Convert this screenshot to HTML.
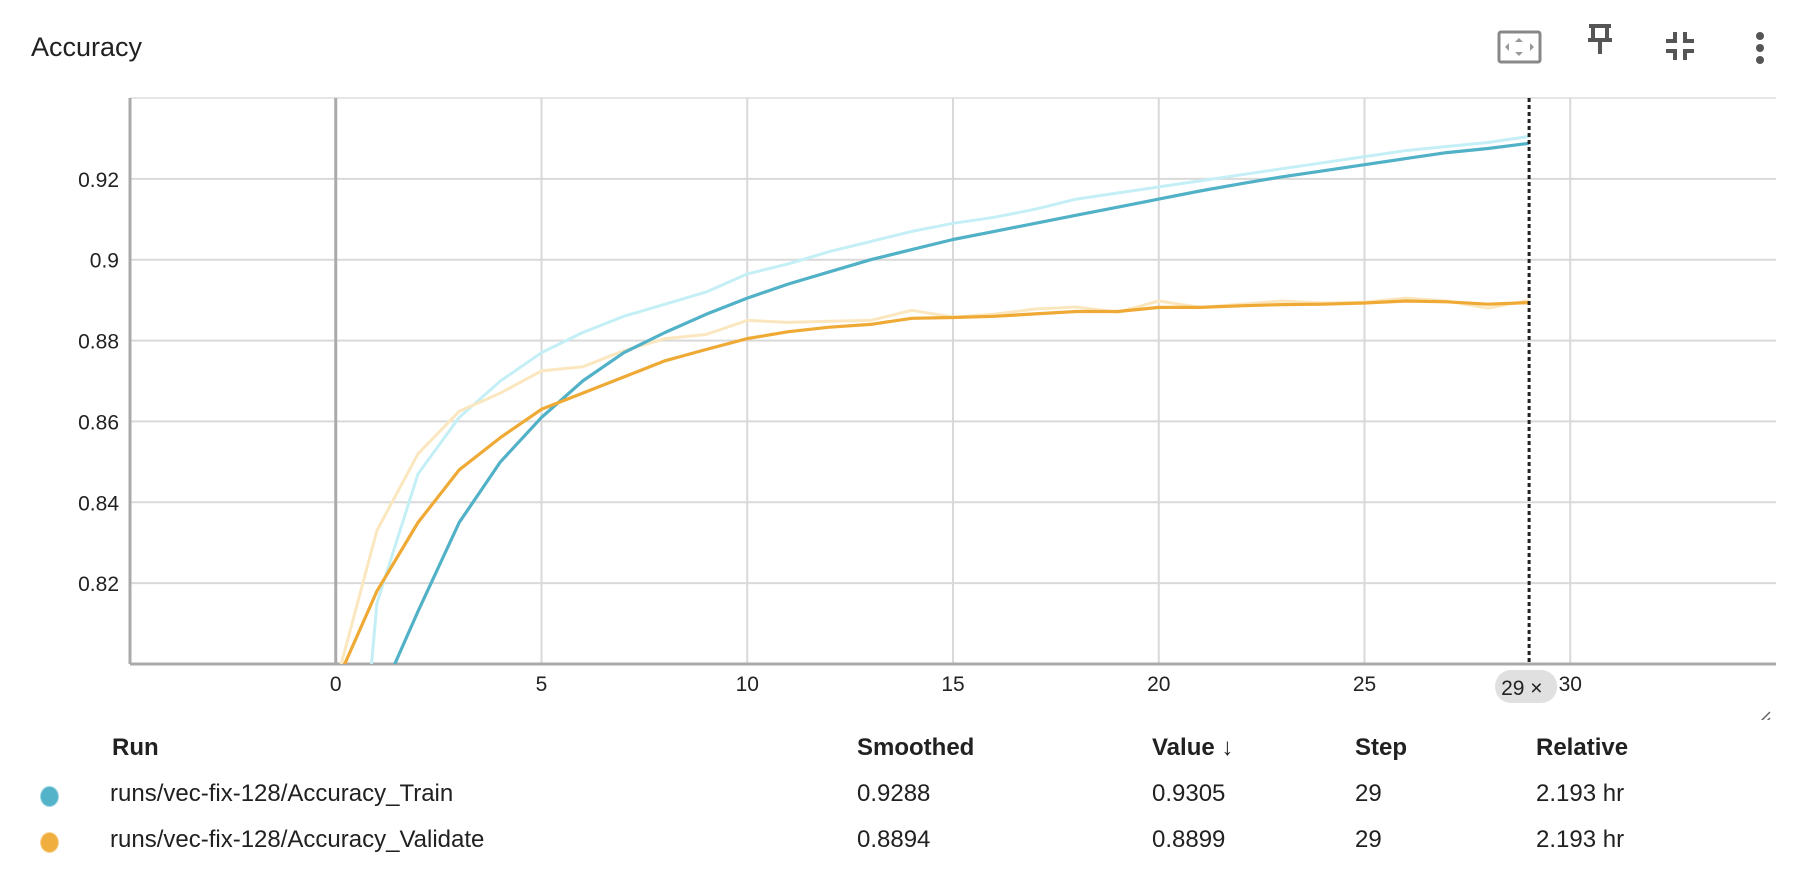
<!DOCTYPE html>
<html><head><meta charset="utf-8">
<style>
html,body{margin:0;padding:0;background:#fff;width:1804px;height:892px;overflow:hidden;font-family:"Liberation Sans",sans-serif;color:#212121;}
#wrap{position:relative;width:1804px;height:892px;overflow:hidden;}
.title{position:absolute;left:31px;top:32px;font-size:27px;line-height:30px;}
.icon{position:absolute;}
.tbl{position:absolute;font-size:24px;line-height:28px;white-space:nowrap;}
.hdr{font-weight:bold;}
</style></head><body><div id="wrap">
<div class="title">Accuracy</div>
<svg class="icon" style="left:1497px;top:29px" width="46" height="36"><rect x="2" y="3" width="41" height="30" rx="2" fill="none" stroke="#888" stroke-width="3"/><path d="M22 9l-4 4h8zM22 27l-4-4h8zM8 18l4-4v8zM37 18l-4-4v8z" fill="#999"/></svg>
<svg class="icon" style="left:1585px;top:22px" width="30" height="34"><path d="M4 4h22M8 4v12M22 4v12M3 18h24M15 18v14" stroke="#555" stroke-width="4" fill="none"/></svg>
<svg class="icon" style="left:1664px;top:30px" width="32" height="32"><path d="M2 11h9V2M30 11h-9V2M2 21h9v9M30 21h-9v9" stroke="#555" stroke-width="4" fill="none"/></svg>
<svg class="icon" style="left:1752px;top:28px" width="16" height="40"><circle cx="8" cy="8" r="4" fill="#555"/><circle cx="8" cy="20" r="4" fill="#555"/><circle cx="8" cy="32" r="4" fill="#555"/></svg>

<svg id="chart" style="position:absolute;left:0;top:0" width="1804" height="720"></svg>

<div class="tbl hdr" style="left:112px;top:734px">Run</div>
<div class="tbl hdr" style="left:857px;top:734px">Smoothed</div>
<div class="tbl hdr" style="left:1152px;top:734px">Value ↓</div>
<div class="tbl hdr" style="left:1355px;top:734px">Step</div>
<div class="tbl hdr" style="left:1536px;top:734px">Relative</div>

<div style="position:absolute;left:40px;top:786px;width:19px;height:21px;border-radius:50%;background:#53b3c9;border:1px solid #9fd6e3;box-sizing:border-box"></div>
<div class="tbl" style="left:110px;top:780px">runs/vec-fix-128/Accuracy_Train</div>
<div class="tbl" style="left:857px;top:780px">0.9288</div>
<div class="tbl" style="left:1152px;top:780px">0.9305</div>
<div class="tbl" style="left:1355px;top:780px">29</div>
<div class="tbl" style="left:1536px;top:780px">2.193 hr</div>

<div style="position:absolute;left:40px;top:832px;width:19px;height:21px;border-radius:50%;background:#f0ae3e;border:1px solid #f7d597;box-sizing:border-box"></div>
<div class="tbl" style="left:110px;top:826px">runs/vec-fix-128/Accuracy_Validate</div>
<div class="tbl" style="left:857px;top:826px">0.8894</div>
<div class="tbl" style="left:1152px;top:826px">0.8899</div>
<div class="tbl" style="left:1355px;top:826px">29</div>
<div class="tbl" style="left:1536px;top:826px">2.193 hr</div>
</div>
<script>
const steps = [0,1,2,3,4,5,6,7,8,9,10,11,12,13,14,15,16,17,18,19,20,21,22,23,24,25,26,27,28,29];
const trainRaw = [0.70,0.815,0.847,0.861,0.870,0.877,0.882,0.886,0.889,0.892,0.8965,0.899,0.902,0.9045,0.907,0.909,0.9105,0.9125,0.915,0.9165,0.918,0.9195,0.921,0.9225,0.924,0.9255,0.927,0.928,0.929,0.9305];
const trainSmoothed = [0.70,0.79,0.813,0.835,0.850,0.861,0.870,0.877,0.882,0.8865,0.8905,0.894,0.897,0.900,0.9025,0.905,0.907,0.909,0.911,0.913,0.915,0.917,0.9188,0.9205,0.922,0.9235,0.925,0.9265,0.9275,0.9288];
const valRaw = [0.795,0.833,0.852,0.8625,0.867,0.8725,0.8735,0.8775,0.8805,0.8815,0.885,0.8845,0.8848,0.885,0.8875,0.8858,0.8865,0.8878,0.8883,0.887,0.8898,0.8882,0.889,0.8898,0.8893,0.8895,0.8905,0.8898,0.888,0.8899];
const valSmoothed = [0.795,0.818,0.835,0.848,0.856,0.863,0.867,0.871,0.875,0.8778,0.8805,0.8822,0.8833,0.884,0.8855,0.8857,0.886,0.8866,0.8872,0.8872,0.8882,0.8882,0.8886,0.8889,0.889,0.8893,0.8898,0.8896,0.889,0.8894];
const yTicks = [0.82,0.84,0.86,0.88,0.9,0.92];
const yTickLabels = ["0.82","0.84","0.86","0.88","0.9","0.92"];
const xTicks = [0,5,10,15,20,25,30];
const xTickLabels = ["0","5","10","15","20","25","30"];
const cursorStep = 29;

const L=130,R=1776,T=98,B=664;
const xMin=-5.0,xMax=35.0,yMin=0.80,yMax=0.94;
const xs=s=>L+(s-xMin)/(xMax-xMin)*(R-L);
const ys=v=>B-(v-yMin)/(yMax-yMin)*(B-T);
const svg=document.getElementById('chart');
const NS='http://www.w3.org/2000/svg';
function mk(tag,attrs,parent){const e=document.createElementNS(NS,tag);for(const k in attrs)e.setAttribute(k,attrs[k]);(parent||svg).appendChild(e);return e;}
const defs=mk('defs',{});
const cp=mk('clipPath',{id:'plotclip'},defs);
mk('rect',{x:L,y:T,width:R-L,height:B-T},cp);

mk('line',{x1:L,y1:T,x2:R,y2:T,stroke:'#ddd','stroke-width':1.5});
yTicks.forEach((v,i)=>{
  const g=mk('line',{x1:L,y1:ys(v),x2:R,y2:ys(v),stroke:'#d9d9d9','stroke-width':2});
  
  
  const t=mk('text',{x:119,y:ys(v)+8,'text-anchor':'end','font-size':21,fill:'#222','font-family':'Liberation Sans, sans-serif'});
  t.textContent=yTickLabels[i];
  
  
});
xTicks.forEach((s,i)=>{
  const g=mk('line',{x1:xs(s),y1:T,x2:xs(s),y2:B,stroke:s===0?'#aaa':'#d9d9d9','stroke-width':s===0?3:2});
  
  
  const t=mk('text',{x:xs(s),y:691,'text-anchor':'middle','font-size':21,fill:'#222','font-family':'Liberation Sans, sans-serif'});
  t.textContent=xTickLabels[i];
  
  
});
mk('line',{x1:L,y1:T,x2:L,y2:B,stroke:'#aaa','stroke-width':3});
mk('line',{x1:L,y1:B,x2:R,y2:B,stroke:'#aaa','stroke-width':3});

function line(vals,color,w,name){
  const d=steps.map((s,i)=>(i?'L':'M')+xs(s).toFixed(1)+' '+ys(vals[i]).toFixed(1)).join(' ');
  const p=mk('path',{d:d,fill:'none',stroke:color,'stroke-width':w,'clip-path':'url(#plotclip)','stroke-linejoin':'round'});
  
  
}
line(trainRaw,'#c4eff6',3,'train-raw-line');
line(valRaw,'#fbe7bf',3,'validate-raw-line');
line(trainSmoothed,'#50b1c7',3.2,'train-smoothed-line');
line(valSmoothed,'#efa935',3.2,'validate-smoothed-line');

const cx=xs(cursorStep);
const cl=mk('line',{x1:cx,y1:T,x2:cx,y2:B,stroke:'#222','stroke-width':3,'stroke-dasharray':'4 3'});


const pill=mk('rect',{x:cx-34,y:670,width:62,height:33,rx:16,fill:'#e0e0e0'});


const pt=mk('text',{x:cx-28,y:695,'font-size':21,fill:'#222','font-family':'Liberation Sans, sans-serif'});
pt.textContent=cursorStep+' ×';


const rs=mk('path',{d:'M1758 724l12-12M1764 724l6-6',stroke:'#666','stroke-width':1.5});


</script>
</body></html>
